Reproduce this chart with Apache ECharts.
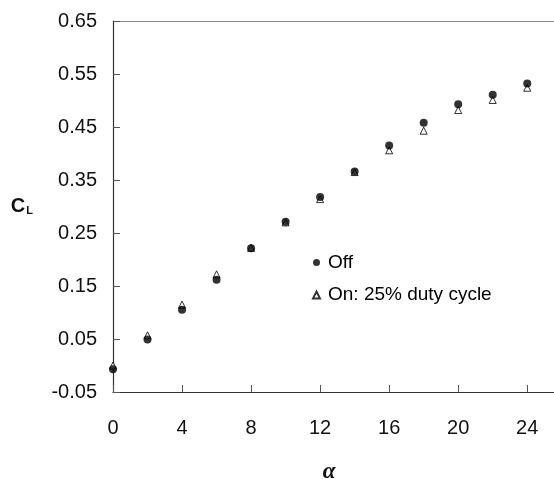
<!DOCTYPE html>
<html>
<head>
<meta charset="utf-8">
<script src="https://cdn.jsdelivr.net/npm/echarts@6/dist/echarts.min.js"></script>
<style>html,body{margin:0;padding:0;background:#fff}#c{width:554px;height:479px}</style>
</head>
<body>
<div id="c"></div>
<script>
var alpha = [0, 2, 4, 6, 8, 10, 12, 14, 16, 18, 20, 22, 24];
var clOff = [-0.007, 0.049, 0.105, 0.162, 0.221, 0.271, 0.318, 0.366, 0.415, 0.458, 0.493, 0.511, 0.532];
var clOn = [0.000, 0.057, 0.115, 0.172, 0.222, 0.270, 0.314, 0.365, 0.406, 0.443, 0.482, 0.501, 0.524];
var seriesNames = ['Off', 'On: 25% duty cycle'];
var xTicks = [0, 4, 8, 12, 16, 20, 24];
var yTicks = [-0.05, 0.05, 0.15, 0.25, 0.35, 0.45, 0.55, 0.65];

function pairs(xs, ys) { return xs.map(function (x, i) { return [x, ys[i]]; }); }

var chart = echarts.init(document.getElementById('c'), null, { renderer: 'canvas' });
var font = 'Liberation Sans';
chart.setOption({
  animation: false,
  backgroundColor: '#fff',
  grid: { left: 113, top: 21, right: 0, bottom: 87, containLabel: false, outerBoundsMode: 'none' },
  legend: {
    orient: 'vertical', left: 307, top: 248,
    itemWidth: 7, itemHeight: 7, itemGap: 13.5,
    data: [{ name: seriesNames[0], icon: 'circle' }, { name: seriesNames[1], icon: 'triangle' }],
    textStyle: { fontFamily: font, fontSize: 19, color: '#000', padding: [0, 0, 0, 3] }
  },
  xAxis: [{
    type: 'value', min: 0, max: 25.55, interval: 4,
    splitLine: { show: false },
    axisLine: { show: true, onZero: false, lineStyle: { color: '#333', width: 1.2 } },
    axisTick: { show: true, inside: true, length: 7, lineStyle: { color: '#555' } },
    axisLabel: {
      margin: 26, fontFamily: font, fontSize: 20, color: '#111', showMaxLabel: true,
      formatter: function (v) { return xTicks.indexOf(Math.round(v * 1000) / 1000) >= 0 ? String(v) : ''; }
    },
    name: 'α', nameLocation: 'middle', nameGap: 69,
    nameTextStyle: { fontFamily: 'Liberation Serif', fontStyle: 'italic', fontWeight: 'bold', fontSize: 23, color: '#111', padding: [0, 9, 0, 0] }
  }, {
    type: 'value', position: 'top', min: 0, max: 25.55,
    splitLine: { show: false },
    axisLine: { show: true, onZero: false, lineStyle: { color: '#888', width: 1 } },
    axisTick: { show: false }, axisLabel: { show: false }
  }],
  yAxis: {
    type: 'value', min: -0.05, max: 0.65, interval: 0.1,
    splitLine: { show: false },
    axisLine: { show: true, onZero: false, lineStyle: { color: '#333', width: 1.2 } },
    axisTick: { show: true, inside: true, length: 7, lineStyle: { color: '#555' } },
    axisLabel: {
      margin: 16, fontFamily: font, fontSize: 20, color: '#111',
      formatter: function (v) { return v.toFixed(2); }
    },
    name: '{c|C}{l|L}', nameLocation: 'middle', nameGap: 80, nameRotate: 0,
    nameTextStyle: {
      rich: {
        c: { fontFamily: font, fontWeight: 'bold', fontSize: 20, color: '#111' },
        l: { fontFamily: font, fontWeight: 'bold', fontSize: 11, color: '#111', verticalAlign: 'bottom', padding: [0, 0, 0, 1] }
      }
    }
  },
  series: [{
    name: seriesNames[1], type: 'scatter', xAxisIndex: 0, clip: false,
    symbol: 'triangle', symbolSize: 7,
    itemStyle: { color: '#fff', borderColor: '#000', borderWidth: 1 },
    data: pairs(alpha, clOn)
  }, {
    name: seriesNames[0], type: 'scatter', xAxisIndex: 0, clip: false,
    symbol: 'circle', symbolSize: 8,
    itemStyle: { color: '#000' },
    data: pairs(alpha, clOff)
  }]
});
</script>
</body>
</html>
